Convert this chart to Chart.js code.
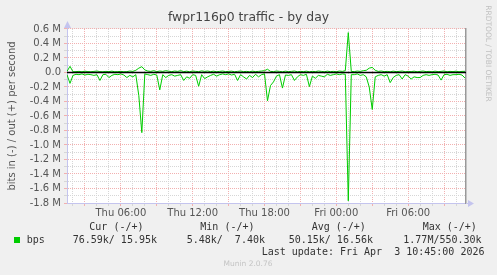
<!DOCTYPE html>
<html><head><meta charset="utf-8">
<script src="https://cdn.jsdelivr.net/npm/chart.js@4/dist/chart.umd.min.js"></script>
<style>html,body{margin:0;padding:0;background:#f0f0f0;}canvas{display:block;}</style>
</head><body>
<canvas id="c" width="497" height="275"></canvas>
<script>
const chartTitle = 'fwpr116p0 traffic - by day';
const yAxisTitle = 'bits in (-) / out (+) per second';
const seriesName = 'bps';
const startMinute = 90;   // Thu 01:30, minutes since Thu 00:00
const stepMinutes = 15;
const xMin = 90, xMax = 2090;
const yMin = -1800000, yMax = 600000;

// inbound traffic (kbit/s), plotted below zero
const inKbps = [
 30,150,40,25,30,20,35,25,30,40, 30,110,30,25,70,40,25,30,20,35,
 70,40,60,30,320,830,20,30,40,25, 35,240,30,70,40,30,50,40,30,110,
 60,80,30,40,190,30,85,60,40,25, 50,30,20,30,20,35,25,110,30,60,
 90,40,70,25,60,30,20,390,180,130, 50,30,215,35,40,30,110,60,30,40,
 25,195,50,80,40,50,60,25,40,30, 20,30,20,25,1770,30,30,20,40,30,
 60,200,510,60,40,30,50,30,140,70, 40,30,90,30,50,90,60,70,70,40,
 30,40,30,25,35,105,30,25,40,30, 30,25,35,77
];
// outbound traffic (kbit/s), plotted above zero
const outKbps = [
 15,85,10,12,15,10,18,12,10,15, 20,12,10,15,12,18,10,12,15,10,
 12,20,15,30,60,80,35,20,15,25, 12,20,15,25,18,12,20,15,25,12,
 18,10,20,15,12,22,15,20,12,18, 10,15,20,12,15,18,10,15,20,12,
 15,10,18,12,15,20,25,45,15,12, 20,15,10,18,12,15,20,10,15,12,
 18,10,15,12,20,15,10,18,12,15, 10,20,15,25,550,15,12,20,15,25,
 30,60,70,30,15,20,12,15,10,18, 12,15,20,10,15,12,18,10,15,20,
 12,15,10,18,12,15,20,10,15,12, 18,10,15,16
];

const xTickValues = [360, 720, 1080, 1440, 1800];
const xTickLabels = ['Thu 06:00', 'Thu 12:00', 'Thu 18:00', 'Fri 00:00', 'Fri 06:00'];
const legendHeaders = ['Cur (-/+)', 'Min (-/+)', 'Avg (-/+)', 'Max (-/+)'];
const legendValues = ['76.59k/ 15.95k', '5.48k/  7.40k', '50.15k/ 16.56k', '1.77M/550.30k'];
const lastUpdate = 'Last update: Fri Apr  3 10:45:00 2026';
const footerText = 'Munin 2.0.76';
const sideText = 'RRDTOOL / TOBI OETIKER';

const GREEN = '#00cc00';
const MAJOR = '#f2b0b0';
const MINOR = '#d6d6d6';
const AXIS = '#c4c4ee';

const inData = inKbps.map((v, i) => ({x: startMinute + i * stepMinutes, y: -v * 1000}));
const outData = outKbps.map((v, i) => ({x: startMinute + i * stepMinutes, y: v * 1000}));

const xGridTicks = [];
for (let m = 120; m < xMax; m += 60) xGridTicks.push(m);
const yGridTicks = [];
for (let k = -18; k <= 6; k++) yGridTicks.push(k * 100000);

const muninPlugin = {
  id: 'munin',
  beforeDraw(chart) {
    const {ctx, chartArea: a} = chart;
    ctx.save();
    ctx.fillStyle = '#f0f0f0';
    ctx.fillRect(0, 0, chart.width, chart.height);
    ctx.fillStyle = '#ffffff';
    ctx.fillRect(a.left, a.top, a.right - a.left, a.bottom - a.top);
    ctx.restore();
  },
  afterDraw(chart) {
    const {ctx, chartArea: a} = chart;
    ctx.save();
    // axis arrows
    ctx.fillStyle = AXIS;
    ctx.strokeStyle = AXIS;
    ctx.lineWidth = 1;
    ctx.beginPath();
    ctx.moveTo(a.left + 0.5, a.top); ctx.lineTo(a.left + 0.5, a.top - 2); ctx.stroke();
    ctx.beginPath();
    ctx.moveTo(a.left - 3, a.top - 1); ctx.lineTo(a.left + 4, a.top - 1); ctx.lineTo(a.left + 0.5, a.top - 8); ctx.closePath(); ctx.fill();
    ctx.beginPath();
    ctx.moveTo(a.right, a.bottom + 0.5); ctx.lineTo(a.right + 2, a.bottom + 0.5); ctx.stroke();
    ctx.beginPath();
    ctx.moveTo(a.right + 2, a.bottom - 3); ctx.lineTo(a.right + 2, a.bottom + 4); ctx.lineTo(a.right + 8, a.bottom + 0.5); ctx.closePath(); ctx.fill();

    // legend
    ctx.fillStyle = '#333';
    ctx.font = '10px "DejaVu Sans Mono"';
    ctx.textBaseline = 'middle';
    ctx.textAlign = 'left';
    const colX = [89.3, 200.3, 311.7, 422.7];
    const valX = [72.7, 186.7, 288.7, 403.3];
    legendHeaders.forEach((t, i) => ctx.fillText(t, colX[i], 227.5));
    legendValues.forEach((t, i) => ctx.fillText(t, valX[i], 240));
    ctx.fillText(seriesName, 26.7, 240);
    ctx.fillText(lastUpdate, 261.7, 252);
    ctx.fillStyle = GREEN;
    ctx.fillRect(14, 237, 6, 6);

    // footer
    ctx.fillStyle = '#c4c4c4';
    ctx.font = '7.5px "DejaVu Sans"';
    ctx.textAlign = 'center';
    ctx.fillText(footerText, 248, 264);

    // side text
    ctx.translate(487.5, 53.5);
    ctx.rotate(Math.PI / 2);
    ctx.fillStyle = '#c0c0c0';
    ctx.font = '7.5px "DejaVu Sans"';
    ctx.fillText(sideText, 0, 0);
    ctx.restore();
  }
};

new Chart(document.getElementById('c'), {
  type: 'line',
  data: {
    datasets: [
      {label: 'zero', data: [{x: xMin, y: 0}, {x: xMax, y: 0}], borderColor: '#000', borderWidth: 1.6, pointRadius: 0, order: 0},
      {label: seriesName + ' out', data: outData, borderColor: GREEN, borderWidth: 1, pointRadius: 0, tension: 0, order: 1},
      {label: seriesName + ' in', data: inData, borderColor: GREEN, borderWidth: 1, pointRadius: 0, tension: 0, order: 2}
    ]
  },
  options: {
    responsive: false,
    animation: false,
    devicePixelRatio: 1,
    layout: {padding: 0},
    plugins: {
      legend: {display: false},
      tooltip: {enabled: false},
      title: {
        display: true, text: chartTitle, color: '#444',
        font: {family: 'DejaVu Sans', size: 12.4, weight: 'normal'},
        padding: {top: 10.5, bottom: 3.6}
      }
    },
    scales: {
      x: {
        type: 'linear', min: xMin, max: xMax,
        afterBuildTicks: s => { s.ticks = xGridTicks.map(v => ({value: v})); },
        afterFit: s => { s.height = 72; },
        grid: {
          color: c => (c.tick && c.tick.value % 180 === 0) ? MAJOR : MINOR,
          lineWidth: 1, tickLength: 3, drawTicks: true
        },
        border: {display: true, color: AXIS, dash: [1, 1]},
        ticks: {
          autoSkip: false, maxRotation: 0, padding: 1,
          color: '#555', font: {family: 'DejaVu Sans', size: 10},
          callback: v => { const k = xTickValues.indexOf(v); return k >= 0 ? xTickLabels[k] : ''; }
        }
      },
      y: {
        type: 'linear', min: yMin, max: yMax, position: 'left',
        afterBuildTicks: s => { s.ticks = yGridTicks.map(v => ({value: v})); },
        afterFit: s => { s.width = 67; },
        grid: {
          color: c => (c.tick && Math.round(c.tick.value / 100000) % 2 === 0) ? MAJOR : MINOR,
          lineWidth: 1, tickLength: 3
        },
        border: {display: true, color: AXIS, dash: [1, 1]},
        title: {display: true, text: yAxisTitle, color: '#555', font: {family: 'DejaVu Sans', size: 10}, padding: {top: 6, bottom: 0}},
        ticks: {
          autoSkip: false, padding: 3, color: '#555', font: {family: 'DejaVu Sans', size: 10},
          callback: v => {
            const n = Math.round(v / 100000);
            if (n % 2 !== 0) return '';
            if (n === 0) return '0.0';
            return (n / 10).toFixed(1) + ' M';
          }
        }
      },
      y2: {
        type: 'linear', min: yMin, max: yMax, position: 'right',
        afterFit: s => { s.width = 31; },
        grid: {display: false, drawTicks: false},
        ticks: {display: false},
        border: {display: true, color: '#999', width: 1.5}
      }
    }
  },
  plugins: [muninPlugin]
});
</script>
</body></html>
